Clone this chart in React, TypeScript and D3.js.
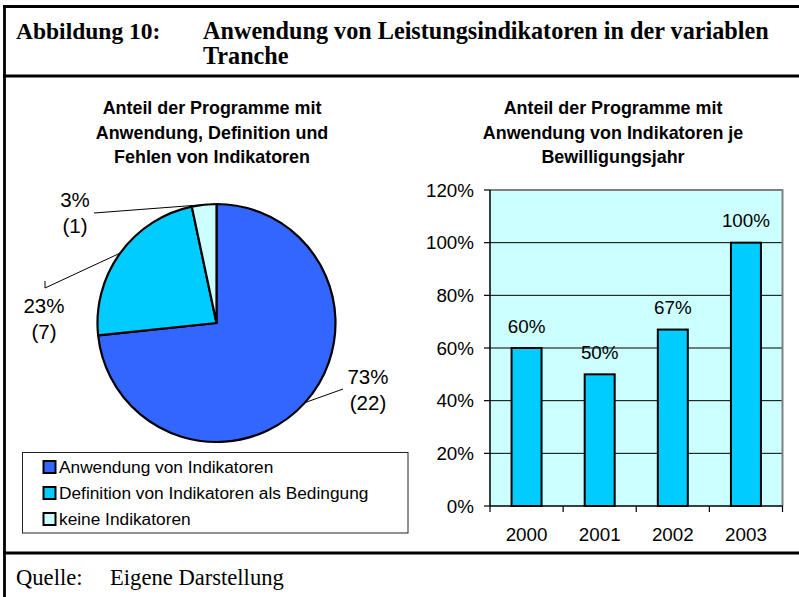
import React from "react";
import * as d3 from "d3";

// ---------- data ----------
const pieCategories = [
  "Anwendung von Indikatoren",
  "Definition von Indikatoren als Bedingung",
  "keine Indikatoren",
];
const pieCounts = [22, 7, 1];

const barYears = ["2000", "2001", "2002", "2003"];
const barValues = [0.6, 0.5, 0.67, 1.0];
const yTickValues = [0, 0.2, 0.4, 0.6, 0.8, 1.0, 1.2];

const figureLabel = "Abbildung 10:";
const figureTitleLines = [
  "Anwendung von Leistungsindikatoren in der variablen",
  "Tranche",
];
const pieTitleLines = [
  "Anteil der Programme mit",
  "Anwendung, Definition und",
  "Fehlen von Indikatoren",
];
const barTitleLines = [
  "Anteil der Programme mit",
  "Anwendung von Indikatoren je",
  "Bewilligungsjahr",
];
const sourceLabel = "Quelle:";
const sourceText = "Eigene Darstellung";

// ---------- styles ----------
const pieColors = ["#3366FF", "#00CCFF", "#CCFFFF"];
const barColor = "#00CCFF";
const plotBg = "#CCFFFF";
const SANS = "'Liberation Sans', Arial, sans-serif";
const SERIF = "'Liberation Serif', 'Times New Roman', serif";

// label placement (style) for pie labels: text anchor + leader end points
const pieLabelStyle = [
  { x: 368, y: 384, leader: [[343, 389]] },
  { x: 44, y: 313, leader: [[45, 288], [45, 281]] },
  { x: 75, y: 207, leader: [[94, 213]] },
];

export default function App() {
  const W = 799;
  const H = 597;

  // pie
  const cx = 216.5;
  const cy = 323;
  const r = 119;
  const total = d3.sum(pieCounts);
  const pieGen = d3
    .pie<number>()
    .sort(null)
    .startAngle(0)
    .endAngle(2 * Math.PI)
    .value((d) => d);
  const arcs = pieGen(pieCounts);
  const arcGen = d3.arc<d3.PieArcDatum<number>>().innerRadius(0).outerRadius(r);
  const edgeArc = d3.arc<d3.PieArcDatum<number>>().innerRadius(r).outerRadius(r);

  // bars
  const plot = { x0: 490, x1: 782.5, y0: 190, y1: 506 };
  const x = d3
    .scaleBand<string>()
    .domain(barYears)
    .range([plot.x0, plot.x1])
    .paddingInner(0.59)
    .paddingOuter(0.295);
  const y = d3.scaleLinear().domain([0, 1.2]).range([plot.y1, plot.y0]);
  const boundaries = d3.range(barYears.length + 1).map(
    (i) => plot.x0 + i * ((plot.x1 - plot.x0) / barYears.length)
  );
  const pct = d3.format(".0%");

  return (
    <svg
      width={W}
      height={H}
      viewBox={`0 0 ${W} ${H}`}
      style={{ position: "absolute", left: 0, top: 0, background: "#fff" }}
    >
      <rect x={0} y={0} width={W} height={H} fill="#fff" />
      {/* frame */}
      <g stroke="#000" strokeWidth={2.8}>
        <line x1={3} x2={W + 2} y1={6.5} y2={6.5} />
        <line x1={4.5} x2={4.5} y1={5} y2={H + 2} />
        <line x1={3} x2={W + 2} y1={76} y2={76} />
        <line x1={3} x2={W + 2} y1={553} y2={553} />
      </g>

      {/* figure title */}
      <g fontFamily={SERIF} fontWeight="bold" fill="#000">
        <text x={16} y={39} fontSize={23.5}>{figureLabel}</text>
        {figureTitleLines.map((t, i) => (
          <text key={i} x={203} y={39 + i * 25} fontSize={24.2}>{t}</text>
        ))}
      </g>

      {/* source */}
      <g fontFamily={SERIF} fontSize={22.6} fill="#000">
        <text x={16} y={585}>{sourceLabel}</text>
        <text x={110} y={585}>{sourceText}</text>
      </g>

      {/* pie title */}
      <g fontFamily={SANS} fontWeight="bold" fontSize={17.9} textAnchor="middle">
        {pieTitleLines.map((t, i) => (
          <text key={i} x={212} y={114 + i * 24.5}>{t}</text>
        ))}
      </g>

      {/* pie */}
      <g transform={`translate(${cx},${cy})`}>
        {arcs.map((a, i) => (
          <path
            key={i}
            d={arcGen(a) || ""}
            fill={pieColors[i]}
            stroke="#000"
            strokeWidth={2.2}
            strokeLinejoin="round"
          />
        ))}
      </g>

      {/* pie leader lines + labels */}
      {arcs.map((a, i) => {
        const [ex, ey] = edgeArc.centroid(a);
        const st = pieLabelStyle[i];
        const pts = [[cx + ex, cy + ey], ...st.leader];
        const share = Math.round((pieCounts[i] / total) * 100);
        return (
          <g key={i}>
            <polyline
              points={pts.map((p) => p.join(",")).join(" ")}
              fill="none"
              stroke="#000"
              strokeWidth={1}
            />
            <text x={st.x} y={st.y} textAnchor="middle" fontFamily={SANS} fontSize={20.5}>
              {share}%
            </text>
            <text x={st.x} y={st.y + 26} textAnchor="middle" fontFamily={SANS} fontSize={20.5}>
              ({pieCounts[i]})
            </text>
          </g>
        );
      })}

      {/* legend */}
      <g>
        <rect
          x={22.5}
          y={452.5}
          width={385.5}
          height={80.5}
          fill="#fff"
          stroke="#222"
          strokeWidth={1}
        />
        {pieCategories.map((c, i) => (
          <g key={i} transform={`translate(0,${i * 26})`}>
            <rect
              x={43.5}
              y={461}
              width={12}
              height={12}
              fill={pieColors[i]}
              stroke="#000"
              strokeWidth={2}
            />
            <text x={59} y={472.5} fontFamily={SANS} fontSize={17.3}>
              {c}
            </text>
          </g>
        ))}
      </g>

      {/* bar title */}
      <g fontFamily={SANS} fontWeight="bold" fontSize={17.9} textAnchor="middle">
        {barTitleLines.map((t, i) => (
          <text key={i} x={613} y={114 + i * 24.5}>{t}</text>
        ))}
      </g>

      {/* bar plot */}
      <rect
        x={plot.x0}
        y={plot.y0}
        width={plot.x1 - plot.x0}
        height={plot.y1 - plot.y0}
        fill={plotBg}
      />
      {yTickValues
        .filter((v) => v > 0 && v < 1.2)
        .map((v) => (
          <line
            key={v}
            x1={plot.x0}
            x2={plot.x1}
            y1={y(v)}
            y2={y(v)}
            stroke="#000"
            strokeWidth={1}
          />
        ))}
      {/* plot border top/right (gray) */}
      <polyline
        points={`${plot.x0},${plot.y0} ${plot.x1},${plot.y0} ${plot.x1},${plot.y1}`}
        fill="none"
        stroke="#808080"
        strokeWidth={2}
      />
      {/* bars */}
      {barYears.map((yr, i) => (
        <rect
          key={yr}
          x={x(yr)}
          y={y(barValues[i])}
          width={x.bandwidth()}
          height={y(0) - y(barValues[i])}
          fill={barColor}
          stroke="#000"
          strokeWidth={2}
        />
      ))}
      {/* value labels */}
      {barYears.map((yr, i) => (
        <text
          key={yr}
          x={(x(yr) || 0) + x.bandwidth() / 2}
          y={y(barValues[i]) - 15.5}
          textAnchor="middle"
          fontFamily={SANS}
          fontSize={18.8}
        >
          {pct(barValues[i])}
        </text>
      ))}
      {/* y axis */}
      <line x1={plot.x0} x2={plot.x0} y1={plot.y0} y2={plot.y1} stroke="#000" strokeWidth={1.5} />
      {yTickValues.map((v) => (
        <g key={v}>
          <line x1={plot.x0 - 6} x2={plot.x0} y1={y(v)} y2={y(v)} stroke="#000" strokeWidth={1.2} />
          <text
            x={plot.x0 - 16}
            y={y(v)}
            dy="0.36em"
            textAnchor="end"
            fontFamily={SANS}
            fontSize={18.8}
          >
            {pct(v)}
          </text>
        </g>
      ))}
      {/* x axis */}
      <line x1={plot.x0} x2={plot.x1} y1={plot.y1} y2={plot.y1} stroke="#000" strokeWidth={1.5} />
      {boundaries.map((bx, i) => (
        <line key={i} x1={bx} x2={bx} y1={plot.y1} y2={plot.y1 + 6} stroke="#000" strokeWidth={1.2} />
      ))}
      {barYears.map((yr) => (
        <text
          key={yr}
          x={(x(yr) || 0) + x.bandwidth() / 2}
          y={541}
          textAnchor="middle"
          fontFamily={SANS}
          fontSize={18.8}
        >
          {yr}
        </text>
      ))}
    </svg>
  );
}
